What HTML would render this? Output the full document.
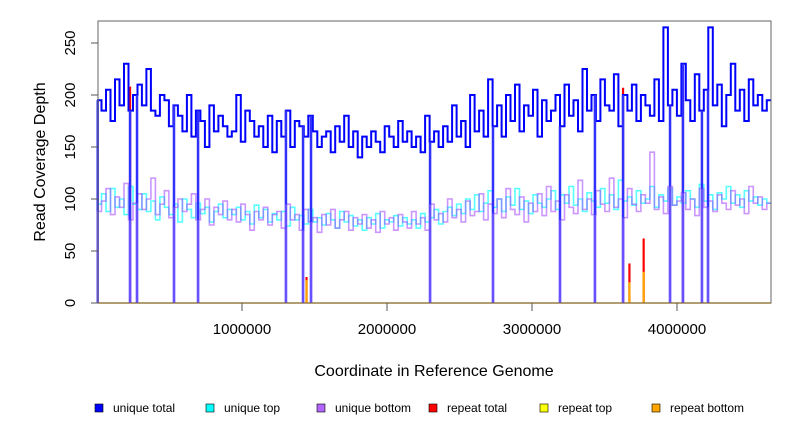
<!DOCTYPE html>
<html><head><meta charset="utf-8"><style>
body{margin:0;background:#fff}
svg{display:block;font-family:"Liberation Sans",sans-serif}
</style></head><body>
<svg id="c" width="792" height="432" viewBox="0 0 792 432">
<rect width="792" height="432" fill="#fff"/>
<g id="marks"></g>
<rect x="98" y="21" width="673" height="282" fill="none" stroke="#666" stroke-width="1"/>
<g id="axes" font-size="15" fill="#000"></g>
<text x="45" y="162" font-size="16" text-anchor="middle" transform="rotate(-90 45 162)">Read Coverage Depth</text>
<text x="434" y="376" font-size="16" text-anchor="middle">Coordinate in Reference Genome</text>
<g id="legend" font-size="12"></g>
</svg>
<script>
const binWidth = 31000;
const uniqueTotal = [195,185,205,175,215,190,230,185,200,210,190,
225,185,180,200,195,170,190,180,165,200,
160,185,175,150,190,165,180,170,160,165,
200,155,185,175,160,170,150,180,145,175,
160,185,150,175,170,160,180,165,150,160,
165,145,170,155,180,150,165,140,160,150,
165,155,145,170,160,150,175,155,165,150,
160,145,180,155,165,150,170,155,190,160,
175,150,200,165,185,160,215,170,190,160,
200,175,210,165,190,180,205,160,195,175,
185,200,170,210,180,195,165,225,185,200,
175,215,190,185,220,170,200,185,210,175,
200,190,180,215,175,265,190,205,180,230,
195,175,220,185,205,265,190,210,170,200,
230,185,205,175,215,190,200,185,195];
const uniqueTop = [95,105,88,110,92,100,85,112,95,90,
105,88,98,80,102,92,85,95,78,100,
90,82,96,86,92,78,88,95,82,90,
85,92,80,88,76,94,82,90,78,86,
80,88,74,92,80,84,76,90,78,82,
75,86,80,72,88,78,84,74,80,70,
82,76,86,72,80,78,84,74,82,76,
80,72,86,78,82,90,76,88,92,84,
95,86,100,90,104,88,96,108,92,100,
88,102,94,110,90,98,86,104,96,92,
100,108,90,104,96,112,94,100,88,106,
98,92,110,96,104,90,118,98,102,94,
108,96,100,112,92,104,98,110,94,102,
96,108,100,92,114,98,104,90,106,100,
112,96,104,92,108,98,102,94,100,96];
const uniqueBottom = [88,98,110,85,102,92,115,80,96,105,
90,100,120,85,95,108,82,92,100,88,
95,105,80,90,100,75,92,85,98,80,
90,78,95,85,70,88,80,92,75,85,
88,72,95,80,85,70,90,78,82,68,
85,75,90,72,80,88,70,82,76,85,
72,80,68,88,76,82,70,85,78,72,
88,76,82,70,95,80,86,78,100,82,
90,78,98,84,88,105,80,95,86,100,
82,110,90,85,102,78,96,88,105,84,
112,88,98,80,104,92,86,118,90,100,
85,108,95,88,120,92,100,82,110,95,
88,104,96,145,90,102,86,112,94,98,
106,90,100,84,110,92,98,88,104,96,
90,108,94,100,86,112,96,102,90,96];
const gapCoords = [5000,228000,276000,531000,697000,1303000,1421000,1476000,2297000,2731000,3193000,3434000,3628000,3952000,4041000,4172000,4214000];
const repeatCoords = [228000,1445000,3628000,3672000,3770000,4041000];
const repeatTotal = [208,25,207,38,62,210];
const repeatBottom = [0,22,0,20,30,0];
const yTicks = [0,50,100,150,200,250];
const xTicks = [1000000,2000000,3000000,4000000];
const legendLabels = ["unique total","unique top","unique bottom","repeat total","repeat top","repeat bottom"];
const legendColors = ["#0000ff","#00ffff","#b266ff","#ff0000","#ffff00","#ffa500"];

const NS="http://www.w3.org/2000/svg";
const X = v => 97 + v/1e6*145;
const Y = v => 303 - v*1.04;
function mk(tag, attrs, parent){const e=document.createElementNS(NS,tag);for(const k in attrs)e.setAttribute(k,attrs[k]);parent.appendChild(e);return e;}
const marks=document.getElementById('marks'), axes=document.getElementById('axes'), legend=document.getElementById('legend');

function stepPath(arr){
  let d='';
  arr.forEach((v,i)=>{const x0=X(i*binWidth),x1=X((i+1)*binWidth);d+=(i?'L':'M')+x0.toFixed(1)+' '+Y(v).toFixed(1)+'L'+x1.toFixed(1)+' '+Y(v).toFixed(1);});
  return d;
}
let base = mk('line',{x1:98,x2:771,y1:Y(0),y2:Y(0),stroke:'#ffa500','stroke-width':1.5},marks);


let pt = mk('path',{d:stepPath(uniqueTop),fill:'none',stroke:'#00ffff','stroke-opacity':0.65,'stroke-width':1.6},marks);


let pb = mk('path',{d:stepPath(uniqueBottom),fill:'none',stroke:'#a040ff','stroke-opacity':0.55,'stroke-width':1.6},marks);


repeatCoords.forEach((c,i)=>{
  const r=mk('line',{x1:X(c),x2:X(c),y1:Y(0),y2:Y(repeatTotal[i]),stroke:'#ff0000','stroke-width':2.2},marks);
  
  
  if(repeatBottom[i]>0){
    const o=mk('line',{x1:X(c),x2:X(c),y1:Y(0),y2:Y(repeatBottom[i]),stroke:'#ffa500','stroke-width':2.2},marks);
    
    
  }
});
let ptot = mk('path',{d:stepPath(uniqueTotal),fill:'none',stroke:'#0000ff','stroke-width':2},marks);


gapCoords.forEach(c=>{
  const i=Math.min(uniqueTotal.length-1,Math.floor(c/binWidth));
  const g=mk('line',{x1:X(c),x2:X(c),y1:Y(0),y2:Y(uniqueTotal[i])-0,stroke:'#3030ff','stroke-width':2.5},marks);
  
  
  const g2=mk('line',{x1:X(c),x2:X(c),y1:Y(0),y2:Y(uniqueBottom[i]),stroke:'#a070ff','stroke-opacity':0.5,'stroke-width':2.5},marks);
  
  
});
yTicks.forEach(t=>{
  const l=mk('line',{x1:91,x2:98,y1:Y(t),y2:Y(t),stroke:'#555'},axes);
  
  
  const tx=mk('text',{x:75,y:Y(t),'text-anchor':'middle',transform:`rotate(-90 75 ${Y(t)})`},axes);
  tx.textContent=t;
  
  
});
xTicks.forEach(t=>{
  const l=mk('line',{x1:X(t),x2:X(t),y1:303,y2:311,stroke:'#555'},axes);
  
  
  const tx=mk('text',{x:X(t),y:334,'text-anchor':'middle'},axes);
  tx.textContent=t;
  
  
});
const legX=[95,206,317,429,540,652];
legendLabels.forEach((lab,i)=>{
  const g=mk('g',{},legend);
  
  
  mk('rect',{x:legX[i],y:404,width:8,height:8,fill:legendColors[i],stroke:'#000','stroke-width':0.6},g);
  const t=mk('text',{x:legX[i]+18,y:412},g);
  t.textContent=lab;
});
</script>
</body></html>
